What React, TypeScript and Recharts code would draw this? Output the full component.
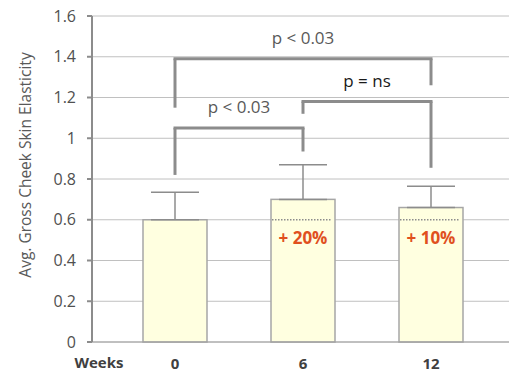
import React from 'react';
import { BarChart, Bar, XAxis, YAxis, CartesianGrid, ErrorBar, ReferenceLine, Customized } from 'recharts';

const weeks = ['0', '6', '12'];
const elasticity = [0.6, 0.7, 0.66];
const sdUpper = [0.135, 0.17, 0.105];
const baselineRef: (number | null)[] = [null, 0.6, 0.6];
const changeLabels = ['', '+ 20%', '+ 10%'];
const yTicks = [0, 0.2, 0.4, 0.6, 0.8, 1, 1.2, 1.4, 1.6];

const bracketFrom = ['0', '0', '6'];
const bracketTo = ['12', '6', '12'];
const bracketLeftY = [1.15, 0.82, 1.12];
const bracketTopY = [1.39, 1.05, 1.18];
const bracketRightY = [1.26, 0.935, 0.855];
const bracketLabels = ['p < 0.03', 'p < 0.03', 'p = ns'];
const bracketLabelColors = ['#595959', '#595959', '#1a1a1a'];

const data = weeks.map((w, i) => ({
  week: w,
  value: elasticity[i],
  err: [0, sdUpper[i]],
  baseline: baselineRef[i],
  change: changeLabels[i],
}));

const FONT = '"Open Sans", sans-serif';
const BRACKET = '#8c8c8c';

const BarShape = (props: any) => {
  const { x, y, width, height, payload } = props;
  const els: any[] = [
    <rect key="r" x={x} y={y} width={width} height={height} fill="#ffffe0" stroke="#a6a6a6" strokeWidth={1.5} />,
  ];
  if (payload && payload.baseline != null) {
    const yb = y + height * (1 - payload.baseline / payload.value);
    els.push(
      <line key="l" x1={x + 1} x2={x + width - 3} y1={yb} y2={yb} stroke="#8c8c8c" strokeWidth={1.5} strokeDasharray="1.5 1.5" />
    );
    els.push(
      <text key="t" x={x + width / 2} y={yb + 24} textAnchor="middle" fill="#e0501e" fontWeight="bold" fontSize={17} fontFamily={FONT}>
        {payload.change}
      </text>
    );
  }
  return <g>{els}</g>;
};

const Extras = () => (
  <g fontFamily={FONT}>
    <text x={25} y={165} transform="rotate(-90, 25, 165)" textAnchor="middle" dominantBaseline="central" fill="#595959" fontSize={15.5}>
      Avg. Gross Cheek Skin Elasticity
    </text>
    <text x={99} y={368} textAnchor="middle" fill="#404040" fontSize={15} fontWeight="bold">
      Weeks
    </text>
  </g>
);

export default function App() {
  return (
    <div style={{ position: 'absolute', left: 0, top: 0, width: 509, height: 374, background: '#fff' }}>
      <BarChart
        width={509}
        height={374}
        data={data}
        margin={{ top: 16, right: 0, bottom: 2, left: 0 }}
        style={{ fontFamily: FONT }}
      >
        <CartesianGrid vertical={false} stroke="#c0c0c0" strokeWidth={1} />
        <XAxis
          dataKey="week"
          height={30}
          padding={{ left: 19, right: 14 }}
          axisLine={{ stroke: '#a0a0a0' }}
          tickLine={false}
          tickSize={6}
          tickMargin={10}
          tick={{ fill: '#404040', fontSize: 15, fontWeight: 'bold' }}
        />
        <YAxis
          width={92}
          domain={[0, 1.6]}
          ticks={yTicks}
          interval={0}
          axisLine={{ stroke: '#8c8c8c', strokeWidth: 2 }}
          tickLine={{ stroke: '#8c8c8c', strokeWidth: 2 }}
          tickSize={5}
          tickMargin={11}
          tick={{ fill: '#505050', fontSize: 16 }}
        />
        <Bar dataKey="value" barSize={64} shape={<BarShape />} isAnimationActive={false}>
          <ErrorBar dataKey="err" direction="y" width={24} stroke="#8c8c8c" strokeWidth={1.5} isAnimationActive={false} />
        </Bar>
        {bracketLabels.map((lbl, i) => (
          <ReferenceLine
            key={'l' + i}
            segment={[{ x: bracketFrom[i], y: bracketLeftY[i] }, { x: bracketFrom[i], y: bracketTopY[i] }]}
            stroke={BRACKET}
            strokeWidth={3}
          />
        ))}
        {bracketLabels.map((lbl, i) => (
          <ReferenceLine
            key={'r' + i}
            segment={[{ x: bracketTo[i], y: bracketRightY[i] }, { x: bracketTo[i], y: bracketTopY[i] }]}
            stroke={BRACKET}
            strokeWidth={3}
          />
        ))}
        {bracketLabels.map((lbl, i) => (
          <ReferenceLine
            key={'h' + i}
            segment={[{ x: bracketFrom[i], y: bracketTopY[i] }, { x: bracketTo[i], y: bracketTopY[i] }]}
            stroke={BRACKET}
            strokeWidth={3}
            strokeLinecap="square"
            label={{ value: lbl, position: 'top', offset: 15, fill: bracketLabelColors[i], fontSize: 17, fontFamily: FONT }}
          />
        ))}
        <Customized component={<Extras />} />
      </BarChart>
    </div>
  );
}
